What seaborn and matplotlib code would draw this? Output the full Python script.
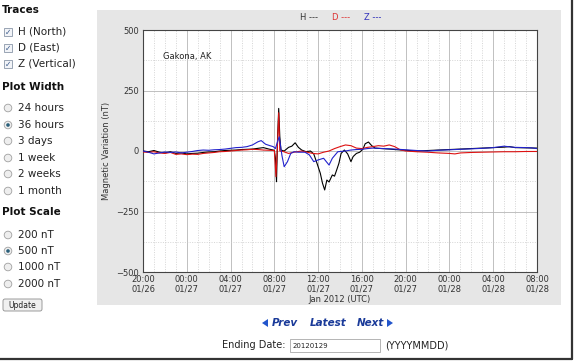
import pandas as pd
import seaborn as sns
import matplotlib
matplotlib.use('Agg')
import matplotlib.pyplot as plt
import matplotlib.dates as mdates
from matplotlib.patches import Rectangle, Circle, FancyBboxPatch, Polygon

W, H = 574, 363
start = pd.Timestamp('2012-01-26 20:00')
end = pd.Timestamp('2012-01-28 08:00')

# hours after 20:00 01/26, values in nT
h_hours = [0, 0.5, 1, 1.5, 2, 2.5, 3, 3.5, 4, 4.5, 5, 5.5, 6, 6.5, 7, 7.5, 8, 8.5, 9, 9.5,
           10, 10.5, 11, 11.5, 12, 12.1, 12.2, 12.3, 12.4, 12.5, 12.6, 12.9, 13.3, 13.6, 13.9,
           14.2, 14.5, 14.9, 15.3, 15.6, 15.9, 16.2, 16.4, 16.6, 16.8, 17.0, 17.3, 17.5, 17.7,
           17.9, 18.1, 18.4, 18.7, 19.0, 19.2, 19.5, 19.8, 20.1, 20.3, 20.6, 20.9, 21.2, 21.8,
           22.5, 23, 24, 25, 26, 27, 28, 29, 30, 31, 32, 33, 33.5, 34, 35, 36]
h_values = [0, -3, 2, -5, -8, -3, -10, -8, -12, -10, -9, -6, -4, -3, 0, 2, 3, 4, 6, 7,
            8, 11, 14, 8, 3, -30, -127, 60, 176, 60, 4, 0, 15, 20, 34,
            15, 4, -3, 0, -12, -51, -92, -133, -161, -120, -128, -99, -104, -78,
            -51, -10, 4, -12, -44, -23, -10, -5, 8, 30, 37, 22, 12, 10,
            8, 6, 3, 0, 2, 4, 6, 8, 10, 12, 14, 16, 18, 14, 13, 12]

d_hours = [0, 0.5, 1, 1.5, 2, 2.5, 3, 3.5, 4, 4.5, 5, 5.5, 6, 6.5, 7, 7.5, 8, 8.5, 9, 9.5,
           10, 10.5, 11, 11.5, 12, 12.15, 12.3, 12.4, 12.5, 12.8, 13.3, 13.8, 14.5, 15, 15.5,
           16, 16.5, 17, 17.5, 18, 18.5, 19, 19.5, 20, 20.5, 21, 21.5, 22, 22.5, 23, 23.5,
           24, 25, 26, 27, 28, 28.5, 29, 30, 31, 32, 33, 34, 35, 36]
d_values = [-4, -6, -3, -8, -10, -6, -14, -12, -15, -13, -14, -10, -8, -6, -3, -2, 0, 2, 4, 5,
            7, 6, 4, 3, 2, -106, 40, 158, 0, -2, -10, -5, 0, -5, -10,
            -12, -5, 0, 10, 18, 25, 22, 12, 10, 15, 18, 22, 20, 25, 18, 5,
            0, -3, -5, -8, -10, -12, -8, -6, -5, -4, -3, -3, -2, -2]

z_hours = [0, 0.5, 1, 1.5, 2, 2.5, 3, 3.5, 4, 4.5, 5, 5.5, 6, 6.5, 7, 7.5, 8, 8.5, 9, 9.5,
           10, 10.5, 10.8, 11.2, 11.6, 11.9, 12.1, 12.3, 12.45, 12.7, 12.9, 13.2, 13.5, 13.8,
           14.2, 14.8, 15.2, 15.6, 16, 16.5, 17, 17.3, 17.8, 18.5, 19, 19.5, 20, 20.5, 21,
           22, 23, 24, 25, 26, 27, 28, 29, 30, 31, 32, 33, 33.5, 34, 35, 35.5, 36]
z_values = [0, -5, -12, -8, -4, -6, -4, -8, -5, -2, 2, 4, 3, 5, 6, 8, 11, 14, 15, 18,
            25, 38, 43, 28, 22, 18, 10, 40, 59, -20, -65, -44, -10, -3,
            -5, -5, -16, -44, -37, -30, -58, -30, -3, 0, 4, 6, 7, 10, 12,
            10, 8, 5, 2, 0, 3, 5, 7, 9, 11, 14, 20, 17, 15, 14, 13, 10]

sidebar = [
    ('head', 'Traces', 10),
    ('check', 'H (North)', 32),
    ('check', 'D (East)', 48),
    ('check', 'Z (Vertical)', 64),
    ('head', 'Plot Width', 87),
    ('radio', '24 hours', 108),
    ('radio*', '36 hours', 125),
    ('radio', '3 days', 141),
    ('radio', '1 week', 158),
    ('radio', '2 weeks', 174),
    ('radio', '1 month', 191),
    ('head', 'Plot Scale', 212),
    ('radio', '200 nT', 235),
    ('radio*', '500 nT', 251),
    ('radio', '1000 nT', 267),
    ('radio', '2000 nT', 284),
]


def build_df():
    frames = []
    for name, hrs, vals in [('H', h_hours, h_values), ('D', d_hours, d_values), ('Z', z_hours, z_values)]:
        frames.append(pd.DataFrame({
            'time': start + pd.to_timedelta(hrs, unit='h'),
            'value': vals,
            'trace': name,
        }))
    return pd.concat(frames, ignore_index=True)


def draw_page(bg):
    # page furniture drawn in pixel coordinates (origin top-left)
    bg.add_patch(Rectangle((97, 10), 464, 295, facecolor='#e6e6e6', edgecolor='none'))
    bg.plot([572, 572], [0, 359], color='#333333', lw=1.6)
    bg.plot([0, 572], [359, 359], color='#333333', lw=1.6)

    for lbl, x, c in [('H ---', 309, '#333333'), ('D ---', 341, '#dd3333'), ('Z ---', 373, '#3333bb')]:
        bg.text(x, 18, lbl, fontsize=6, color=c, ha='center', va='center')

    for kind, label, y in sidebar:
        if kind == 'head':
            bg.text(2, y, label, fontsize=7.5, fontweight='bold', color='#111111', va='center')
            continue
        if kind == 'check':
            bg.add_patch(Rectangle((4, y - 4), 8, 8, facecolor='#f2f4f8', edgecolor='#8a96a8', lw=0.6))
            bg.text(8, y, '\u2713', fontsize=5.5, color='#3a5a8a', ha='center', va='center')
        else:
            bg.add_patch(Circle((8, y), 3.8, facecolor='#eeeeee', edgecolor='#a0a0a0', lw=0.6))
            if kind == 'radio*':
                bg.add_patch(Circle((8, y), 1.8, facecolor='#2a5f7a', edgecolor='none'))
        bg.text(18, y, label, fontsize=7.5, color='#222222', va='center')

    bg.add_patch(FancyBboxPatch((3, 299), 39, 12, boxstyle='round,pad=0,rounding_size=2',
                                facecolor='#f0f0f0', edgecolor='#8c8c8c', lw=0.6))
    bg.text(22.5, 305.5, 'Update', fontsize=5.5, color='#222222', ha='center', va='center')

    nav = '#1a3a99'
    bg.add_patch(Polygon([(262, 323), (268, 319), (268, 327)], closed=True,
                         facecolor='#2255cc', edgecolor='none'))
    bg.add_patch(Polygon([(393, 323), (387, 319), (387, 327)], closed=True,
                         facecolor='#2255cc', edgecolor='none'))
    for word, x in [('Prev', 285), ('Latest', 328), ('Next', 370)]:
        bg.text(x, 323, word, fontsize=7.5, fontweight='bold', style='italic', color=nav,
                ha='center', va='center')

    bg.text(286, 345, 'Ending Date:', fontsize=7, color='#222222', ha='right', va='center')
    bg.add_patch(Rectangle((290, 339), 90, 13, facecolor='white', edgecolor='#a8a8a8', lw=0.6))
    bg.text(293, 345.5, '20120129', fontsize=5, color='#222222', va='center')
    bg.text(385, 345, '(YYYYMMDD)', fontsize=7, color='#222222', va='center')


def main():
    sns.set_style('white')
    plt.rcParams['font.family'] = ['DejaVu Sans']
    fig = plt.figure(figsize=(W / 100, H / 100), dpi=100)
    fig.patch.set_facecolor('white')

    bg = fig.add_axes([0, 0, 1, 1], zorder=0)
    bg.set_xlim(0, W)
    bg.set_ylim(H, 0)
    bg.axis('off')
    draw_page(bg)

    ax = fig.add_axes([143 / W, 1 - 272 / H, 394 / W, 242 / H], zorder=1)
    ax.set_facecolor('white')

    df = build_df()
    palette = {'H': '#000000', 'D': '#dd1111', 'Z': '#2222cc'}
    sns.lineplot(data=df, x='time', y='value', hue='trace', palette=palette,
                 estimator=None, sort=False, lw=0.8, legend=False, ax=ax, zorder=3)

    ax.set_xlim(start, end)
    ax.set_ylim(-500, 500)
    ax.set_yticks([-500, -250, 0, 250, 500])
    ax.set_yticks([-375, -125, 125, 375], minor=True)
    ax.set_yticklabels(['\u2212500', '\u2212250', '0', '250', '500'])
    ax.xaxis.set_major_locator(mdates.HourLocator(byhour=[0, 4, 8, 12, 16, 20]))
    ax.xaxis.set_minor_locator(mdates.HourLocator())
    ax.xaxis.set_major_formatter(mdates.DateFormatter('%H:%M\n%m/%d'))
    ax.grid(which='major', color='#b5b5b5', lw=0.6, ls='-')
    ax.grid(which='minor', color='#c8c8c8', lw=0.5, ls=(0, (1.5, 2)))
    ax.set_axisbelow(True)
    ax.tick_params(which='both', length=0, labelsize=6, labelcolor='#333333', pad=3)
    ax.tick_params(axis='x', pad=2)
    for sp in ax.spines.values():
        sp.set_color('#444444')
        sp.set_linewidth(0.8)
    for t in ax.get_xticklabels():
        t.set_linespacing(1.15)
    ax.set_xlabel('Jan 2012 (UTC)', fontsize=6, color='#333333', labelpad=1)
    ax.set_ylabel('Magnetic Variation (nT)', fontsize=6, color='#333333', labelpad=4)
    ax.text(0.05, 0.89, 'Gakona, AK', transform=ax.transAxes, fontsize=6, color='#222222',
            va='center')

    fig.savefig('out.png', dpi=100)
    plt.close(fig)


if __name__ == '__main__':
    main()
